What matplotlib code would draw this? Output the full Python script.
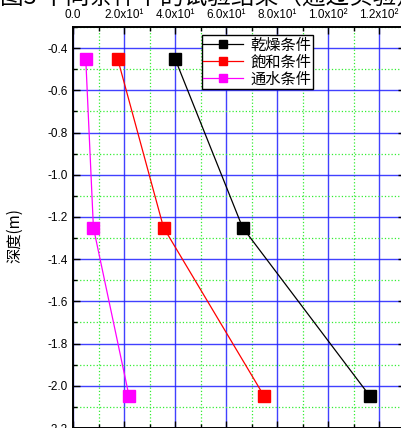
import matplotlib
matplotlib.use("Agg")
from matplotlib import pyplot as plt
from matplotlib.ticker import MultipleLocator

plt.rcParams["font.family"] = ["Liberation Sans", "Noto Sans CJK SC", "DejaVu Sans"]

# depth of each measuring point (m)
depth = [-0.45, -1.25, -2.05]

# values for the three moisture conditions
dry = [40.0, 66.5, 116.5]
saturated = [17.5, 35.5, 75.0]
flooded = [5.0, 8.0, 22.0]

series_names = ["乾燥条件", "飽和条件", "通水条件"]
series_colors = ["#000000", "#ff0000", "#ff00ff"]

x_ticks = [0, 20, 40, 60, 80, 100, 120]
x_tick_labels = ["0.0", "2.0x10¹", "4.0x10¹", "6.0x10¹", "8.0x10¹", "1.0x10²", "1.2x10²"]
y_ticks = [-2.2, -2.0, -1.8, -1.6, -1.4, -1.2, -1.0, -0.8, -0.6, -0.4]

cjk = ["Noto Sans CJK SC", "DejaVu Sans"]

fig = plt.figure(figsize=(4.01, 4.28), dpi=100)
ax = fig.add_axes([73 / 401, 0.0, 331.5 / 401, 401 / 428])

for vals, name, col in zip([dry, saturated, flooded], series_names, series_colors):
    ax.plot(vals, depth, color=col, lw=0.9, marker="s", markersize=8.5,
            markerfacecolor=col, markeredgecolor=col, label=name, zorder=3)

ax.set_xlim(0, 130)
ax.set_ylim(-2.2, -0.3)
ax.set_xticks(x_ticks)
ax.set_xticklabels(x_tick_labels)
ax.set_yticks(y_ticks)
ax.set_yticklabels([f"{v:.1f}" for v in y_ticks])
ax.xaxis.set_minor_locator(MultipleLocator(10))
ax.yaxis.set_minor_locator(MultipleLocator(0.1))

ax.tick_params(which="both", direction="in", top=True, bottom=True, left=True,
               right=True, labeltop=True, labelbottom=False, width=1.0)
ax.tick_params(which="major", length=5, labelsize=8.5, pad=4)
ax.tick_params(which="minor", length=3)

ax.grid(which="major", color="#2020ff", lw=1.0, alpha=0.85, zorder=0)
ax.grid(which="minor", color="#33ee33", lw=0.9, ls=":", zorder=0)
ax.set_axisbelow(True)
for sp in ax.spines.values():
    sp.set_linewidth(1.4)

ax.set_ylabel("深度(m)", fontsize=11, family=cjk)
ax.yaxis.set_label_coords(-0.15, 0.48)

leg = ax.legend(loc="upper left", bbox_to_anchor=(0.389, 0.98), frameon=True,
                fancybox=False, edgecolor="black", framealpha=1.0,
                prop={"family": cjk, "size": 11},
                handlelength=2.6, handletextpad=0.5, labelspacing=0.0,
                borderpad=0.1, borderaxespad=0.0, markerscale=0.7)
leg.get_frame().set_linewidth(1.0)

# figure caption, mostly above the top edge
fig.text(0.0, 1.0 - 4 / 428, "图3 不同条件下的试验结果（通过实验）", fontsize=17,
         family=cjk, va="baseline", ha="left")

fig.savefig("out.png", dpi=100)
